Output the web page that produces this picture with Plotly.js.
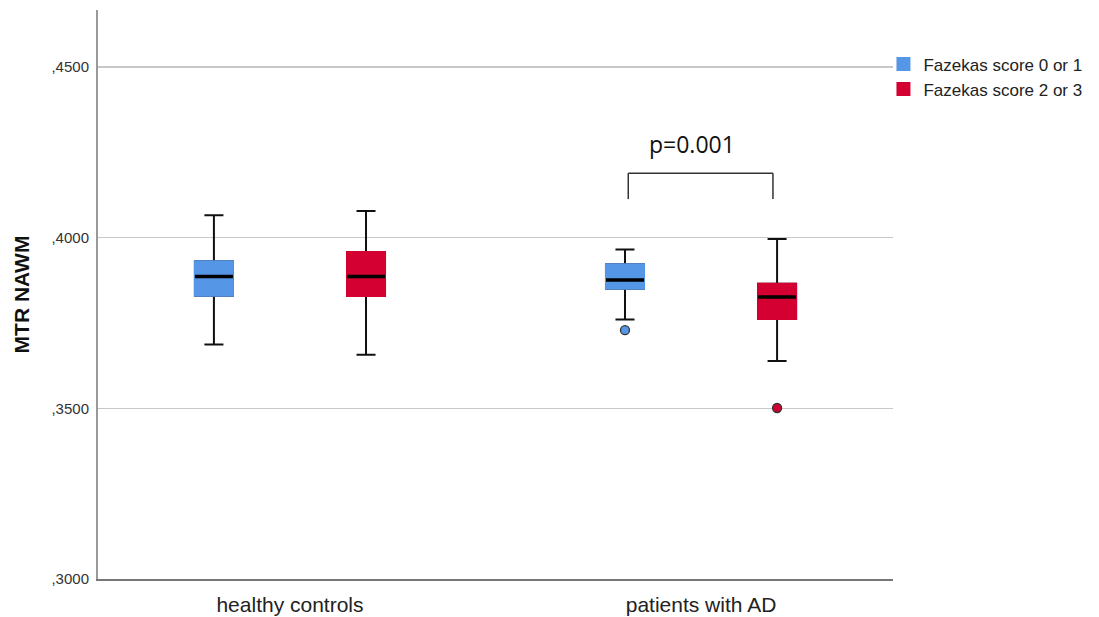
<!DOCTYPE html>
<html>
<head>
<meta charset="utf-8">
<script src="https://cdn.plot.ly/plotly-3.0.1.min.js"></script>
<style>html,body{margin:0;padding:0;background:#fff}#chart{width:1099px;height:617px}</style>
</head>
<body>
<div id="chart"></div>
<script>
// ---- data ----
var categories = ["healthy controls", "patients with AD"];
var seriesNames = ["Fazekas score 0 or 1", "Fazekas score 2 or 3"];

var low0F   = [0.3687, 0.3760];
var q1_0F   = [0.3830, 0.3850];
var med0F   = [0.3886, 0.3876];
var q3_0F   = [0.3931, 0.3922];
var up0F    = [0.4066, 0.3965];
var out0Cat = ["patients with AD"];
var out0Val = [0.3729];

var low2F   = [0.3657, 0.3639];
var q1_2F   = [0.3829, 0.3762];
var med2F   = [0.3886, 0.3826];
var q3_2F   = [0.3958, 0.3865];
var up2F    = [0.4078, 0.3996];
var out2Cat = ["patients with AD"];
var out2Val = [0.3501];

var yTickVals = [0.30, 0.35, 0.40, 0.45];
var yTickText = [",3000", ",3500", ",4000", ",4500"];
var pText = "p=0.001";

// ---- styles ----
var colors = ["#5596E6", "#D50032"];

function groupTraces(name, color, grp, low, q1, med, q3, up, outCat, outVal) {
  var whisk = {
    type: "box", x: categories,
    q1: q1, median: med, q3: q3, lowerfence: low, upperfence: up,
    boxpoints: false,
    line: {color: "#111", width: 2}, fillcolor: color,
    whiskerwidth: 0.5, offsetgroup: grp, showlegend: false, hoverinfo: "skip"
  };
  var body = {
    type: "box", x: categories, name: name,
    q1: q1, median: q1, q3: q3, lowerfence: q1, upperfence: q3,
    boxpoints: false,
    line: {color: color, width: 2}, fillcolor: color,
    whiskerwidth: 0, offsetgroup: grp, showlegend: true, hoverinfo: "skip"
  };
  var median = {
    type: "box", x: categories,
    q1: med, median: med, q3: med, lowerfence: med, upperfence: med,
    boxpoints: false,
    line: {color: "#000", width: 3.5}, fillcolor: "rgba(0,0,0,0)",
    whiskerwidth: 0, offsetgroup: grp, showlegend: false, hoverinfo: "skip"
  };
  var outliers = {
    type: "box", x: outCat, y: outVal,
    boxpoints: "all", pointpos: 0, jitter: 0,
    line: {color: "rgba(0,0,0,0)", width: 0}, fillcolor: "rgba(0,0,0,0)",
    marker: {color: color, size: 9, line: {color: "#333", width: 1.3}},
    offsetgroup: grp, showlegend: false, hoverinfo: "skip"
  };
  return [whisk, body, median, outliers];
}

var data = [].concat(
  groupTraces(seriesNames[0], colors[0], "g0", low0F, q1_0F, med0F, q3_0F, up0F, out0Cat, out0Val),
  groupTraces(seriesNames[1], colors[1], "g1", low2F, q1_2F, med2F, q3_2F, up2F, out2Cat, out2Val)
);

var layout = {
  width: 1099, height: 617,
  margin: {l: 98, r: 206, t: 10, b: 38},
  paper_bgcolor: "#fff", plot_bgcolor: "#fff",
  boxmode: "group", boxgap: 0.26, boxgroupgap: 0.75,
  font: {family: "Liberation Sans, Arial, sans-serif", color: "#222"},
  xaxis: {
    type: "category", range: [-0.467, 1.467],
    showline: true, linecolor: "#777", linewidth: 2,
    ticks: "", showgrid: false, zeroline: false, ticklabelstandoff: 6,
    tickfont: {size: 21, color: "#222"}
  },
  yaxis: {
    range: [0.3, 0.4667],
    tickvals: yTickVals, ticktext: yTickText,
    showline: true, linecolor: "#999", linewidth: 2,
    ticks: "", ticklabelstandoff: 4,
    showgrid: true, gridcolor: "#c8c8c8", gridwidth: 1.5, zeroline: false,
    tickfont: {size: 15, color: "#333"},
    title: {text: "<b>MTR NAWM</b>", font: {size: 21, color: "#111"}, standoff: 16}
  },
  legend: {
    x: 0.988, y: 0.936, xanchor: "left", yanchor: "top",
    font: {size: 17, color: "#222"}, tracegroupgap: 0,
    itemwidth: 30, bgcolor: "rgba(0,0,0,0)"
  },
  shapes: [
    {type: "line", xref: "paper", yref: "y", x0: 0.667, x1: 0.849, y0: 0.4189, y1: 0.4189, line: {color: "#333", width: 1.5}},
    {type: "line", xref: "paper", yref: "y", x0: 0.667, x1: 0.667, y0: 0.4189, y1: 0.4113, line: {color: "#333", width: 1.5}},
    {type: "line", xref: "paper", yref: "y", x0: 0.849, x1: 0.849, y0: 0.4189, y1: 0.4113, line: {color: "#333", width: 1.5}}
  ],
  annotations: [
    {text: pText, xref: "paper", yref: "y", x: 0.747, y: 0.4275, xanchor: "center", yanchor: "middle",
     showarrow: false,
     font: {family: "Open Sans, Noto Sans, sans-serif", size: 23, color: "#111"}}
  ]
};

Plotly.newPlot("chart", data, layout, {staticPlot: true, displayModeBar: false});
</script>
</body>
</html>
